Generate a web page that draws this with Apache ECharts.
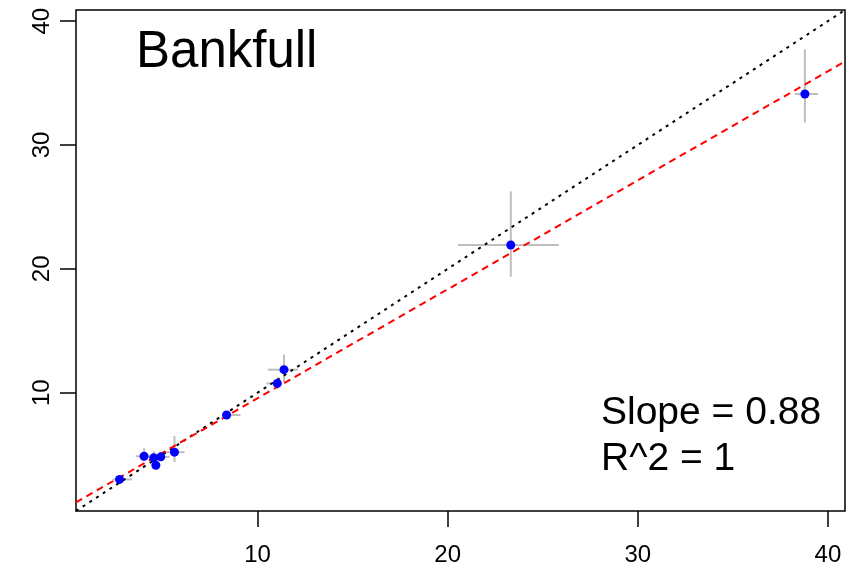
<!DOCTYPE html>
<html>
<head>
<meta charset="utf-8">
<script src="https://cdn.jsdelivr.net/npm/echarts@6/dist/echarts.min.js"></script>
<style>
  html, body { margin: 0; padding: 0; background: #fff; }
  #chart { width: 846px; height: 569px; }
</style>
</head>
<body>
<div id="chart"></div>
<script>
// observed vs predicted, with error bar ends
const xVals = [2.74, 4.03, 4.54, 4.65, 4.91, 5.63, 8.37, 11.04, 11.39, 23.32, 38.79];
const yVals = [3.00, 4.87, 4.74, 4.14, 4.82, 5.20, 8.20, 10.75, 11.86, 21.93, 34.12];
const xLo = [2.37, 3.60, 4.30, 4.45, 4.55, 5.10, 8.14, 10.47, 10.54, 20.54, 38.26];
const xHi = [3.41, 4.50, 4.80, 4.85, 5.37, 6.16, 9.10, 11.25, 12.12, 25.84, 39.49];
const yLo = [2.80, 4.47, 4.50, 3.95, 4.60, 4.41, 7.90, 10.30, 10.83, 19.36, 31.82];
const yHi = [3.20, 5.50, 5.28, 4.35, 5.05, 6.50, 8.50, 11.23, 13.08, 26.26, 37.72];
const tickVals = [10, 20, 30, 40];
const axisMin = 0.45, axisMax = 40.9;
const fitSlope = 0.88, fitIntercept = 0.75;

const chart = echarts.init(document.getElementById('chart'));

const pts = xVals.map((x, i) => [x, yVals[i], xLo[i], xHi[i], yLo[i], yHi[i]]);

const axisCommon = {
  type: 'value',
  min: axisMin,
  max: axisMax,
  splitLine: { show: false },
  axisLine: { show: false },
  axisTick: { show: true, inside: false, length: 16, customValues: tickVals,
    lineStyle: { color: '#000', width: 1.5 } },
  axisLabel: { customValues: tickVals, color: '#000', fontSize: 24,
    fontFamily: 'Liberation Sans, Arial, sans-serif' }
};

const option = {
  animation: false,
  grid: { left: 76, right: 1, top: 10, bottom: 58, show: true,
    borderColor: '#000', borderWidth: 1.5, backgroundColor: 'transparent' },
  xAxis: Object.assign({}, axisCommon, {
    axisLabel: Object.assign({}, axisCommon.axisLabel, { margin: 32 })
  }),
  yAxis: Object.assign({}, axisCommon, {
    axisLabel: Object.assign({}, axisCommon.axisLabel, { margin: 22, rotate: 90 })
  }),
  graphic: [
    { type: 'text', left: 136, top: 27,
      style: { text: 'Bankfull', fill: '#000',
        font: '51px Liberation Sans, Arial, sans-serif' } },
    { type: 'text', left: 601, top: 394,
      style: { text: 'Slope = 0.88', fill: '#000',
        font: '39px Liberation Sans, Arial, sans-serif' } },
    { type: 'text', left: 601, top: 440,
      style: { text: 'R^2 = 1', fill: '#000',
        font: '39px Liberation Sans, Arial, sans-serif' } }
  ],
  series: [
    {
      type: 'custom',
      data: pts,
      z: 1,
      renderItem: function (params, api) {
        const c = api.coord([api.value(0), api.value(1)]);
        const l = api.coord([api.value(2), api.value(1)]);
        const r = api.coord([api.value(3), api.value(1)]);
        const b = api.coord([api.value(0), api.value(4)]);
        const t = api.coord([api.value(0), api.value(5)]);
        const st = { stroke: '#bebebe', lineWidth: 2 };
        return {
          type: 'group',
          children: [
            { type: 'line', shape: { x1: l[0], y1: l[1], x2: r[0], y2: r[1] }, style: st },
            { type: 'line', shape: { x1: c[0], y1: b[1], x2: c[0], y2: t[1] }, style: st }
          ]
        };
      }
    },
    {
      type: 'line',
      data: [[axisMin, axisMin], [axisMax, axisMax]],
      symbol: 'none',
      z: 2,
      lineStyle: { color: '#000', width: 2, type: [3, 5] }
    },
    {
      type: 'line',
      data: [[axisMin, fitSlope * axisMin + fitIntercept], [axisMax, fitSlope * axisMax + fitIntercept]],
      symbol: 'none',
      z: 3,
      lineStyle: { color: '#ff0000', width: 2, type: [7, 5] }
    },
    {
      type: 'scatter',
      data: xVals.map((x, i) => [x, yVals[i]]),
      symbol: 'circle',
      symbolSize: 9,
      z: 4,
      itemStyle: { color: '#0000ff', opacity: 1 }
    }
  ]
};

chart.setOption(option);
</script>
</body>
</html>
